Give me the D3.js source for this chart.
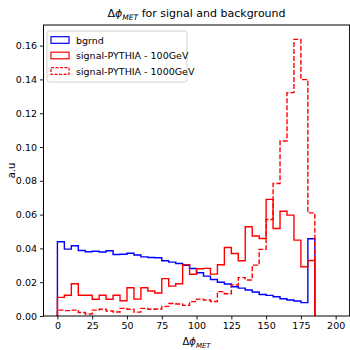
<!DOCTYPE html>
<html>
<head>
<meta charset="utf-8">
<script src="https://cdn.jsdelivr.net/npm/d3@7"></script>
<style>
  body { margin: 0; background: #fff; }
  svg text { font-family: "DejaVu Sans", sans-serif; fill: #000; }
</style>
</head>
<body>
<div class="chart"></div>
<script>
// bin edges (degrees), width 5, last filled bin ends at 185
var binEdges = d3.range(0, 190, 5);

var bgrnd = [0.0439, 0.0396, 0.0416, 0.0388, 0.0380, 0.0383, 0.0379, 0.0386, 0.0364, 0.0365,
             0.0371, 0.0361, 0.0350, 0.0346, 0.0345, 0.0327, 0.0319, 0.0311, 0.0300, 0.0281,
             0.0256, 0.0236, 0.0216, 0.0200, 0.0189, 0.0173, 0.0165, 0.0154, 0.0142, 0.0127,
             0.0122, 0.0114, 0.0102, 0.0095, 0.0089, 0.0079, 0.0457];

var sig100 = [0.0110, 0.0123, 0.0191, 0.0123, 0.0123, 0.0099, 0.0123, 0.0099, 0.0123, 0.0090,
              0.0167, 0.0100, 0.0167, 0.0148, 0.0136, 0.0221, 0.0177, 0.0191, 0.0304, 0.0247,
              0.0280, 0.0282, 0.0248, 0.0303, 0.0405, 0.0370, 0.0327, 0.0528, 0.0473, 0.0459,
              0.0690, 0.0518, 0.0620, 0.0597, 0.0449, 0.0291, 0.0328];

var sig1000 = [0.0035, 0.0032, 0.0035, 0.0021, 0.0012, 0.0035, 0.0040, 0.0030, 0.0024, 0.0045,
               0.0040, 0.0023, 0.0045, 0.0040, 0.0041, 0.0057, 0.0074, 0.0071, 0.0063, 0.0085,
               0.0100, 0.0095, 0.0086, 0.0144, 0.0132, 0.0183, 0.0227, 0.0213, 0.0301, 0.0394,
               0.0571, 0.0784, 0.1036, 0.1322, 0.1637, 0.1399, 0.0610];

var xTicks = [0, 25, 50, 75, 100, 125, 150, 175, 200];
var yTicks = [0, 0.02, 0.04, 0.06, 0.08, 0.10, 0.12, 0.14, 0.16];

var seriesNames = ["bgrnd", "signal-PYTHIA - 100GeV", "signal-PYTHIA - 1000GeV"];
var seriesData  = [bgrnd, sig100, sig1000];
var seriesColor = ["#0000ff", "#ff0000", "#ff0000"];
var seriesDash  = [null, null, "5,2"];

var width  = 350,
    height = 350;

var plotLeft   = 43.5,
    plotRight  = 349.6,
    plotTop    = 25,
    plotBottom = 316;

var x = d3.scaleLinear().domain([-10, 210]).range([plotLeft, plotRight]);
var y = d3.scaleLinear().domain([0, 0.1722]).range([plotBottom, plotTop]);

var svg = d3.select(".chart")
            .append("svg")
            .attr("width", width)
            .attr("height", height);

// step outline of one histogram
function stepPath(values) {
  var p = d3.path();
  p.moveTo(x(binEdges[0]), y(0));
  for (var i = 0; i < values.length; i++) {
    p.lineTo(x(binEdges[i]), y(values[i]));
    p.lineTo(x(binEdges[i + 1]), y(values[i]));
  }
  p.lineTo(x(binEdges[values.length]), y(0));
  return p.toString();
}

var hists = svg.append("g").attr("class", "hists");

seriesData.forEach(function (d, i) {
  hists.append("path")
       .attr("d", stepPath(d))
       .attr("fill", "none")
       .attr("stroke", seriesColor[i])
       .attr("stroke-width", 1.4)
       .attr("stroke-linejoin", "miter")
       .attr("stroke-dasharray", seriesDash[i]);
});

// axes
var xAxis = d3.axisBottom(x).tickValues(xTicks).tickSize(3.5).tickPadding(3)
              .tickFormat(d3.format("d"));
var yAxis = d3.axisLeft(y).tickValues(yTicks).tickSize(3.5).tickPadding(3)
              .tickFormat(d3.format(".2f"));

var gx = svg.append("g").attr("transform", "translate(0," + plotBottom + ")").call(xAxis);
var gy = svg.append("g").attr("transform", "translate(" + plotLeft + ",0)").call(yAxis);

[gx, gy].forEach(function (g) {
  g.select(".domain").remove();
  g.selectAll("text").attr("font-size", 9.5).attr("fill", "#000");
  g.selectAll("line").attr("stroke", "#000").attr("stroke-width", 0.9);
});

// frame
svg.append("rect")
   .attr("x", plotLeft)
   .attr("y", plotTop)
   .attr("width", plotRight - plotLeft)
   .attr("height", plotBottom - plotTop)
   .attr("fill", "none")
   .attr("stroke", "#000")
   .attr("stroke-width", 1);

// title
var title = svg.append("text")
               .attr("x", (plotLeft + plotRight) / 2)
               .attr("y", 17)
               .attr("text-anchor", "middle")
               .attr("font-size", 11);
title.append("tspan").text("Δ");
title.append("tspan").attr("font-style", "italic").text("ϕ");
title.append("tspan").attr("font-style", "italic").attr("font-size", 7.5).attr("dy", 2.5).text("MET");
title.append("tspan").attr("dy", -2.5).text(" for signal and background");

// x label
var xl = svg.append("text")
            .attr("x", (plotLeft + plotRight) / 2)
            .attr("y", 345)
            .attr("text-anchor", "middle")
            .attr("font-size", 10);
xl.append("tspan").text("Δ");
xl.append("tspan").attr("font-style", "italic").text("ϕ");
xl.append("tspan").attr("font-style", "italic").attr("font-size", 7).attr("dy", 2.5).text("MET");

// y label
svg.append("text")
   .attr("transform", "translate(15," + ((plotTop + plotBottom) / 2) + ") rotate(-90)")
   .attr("text-anchor", "middle")
   .attr("font-size", 10)
   .text("a.u");

// legend
var legend = svg.append("g").attr("class", "legend");

legend.append("rect")
      .attr("x", 47)
      .attr("y", 31)
      .attr("width", 140)
      .attr("height", 51)
      .attr("rx", 2.5)
      .attr("fill", "#fff")
      .attr("fill-opacity", 0.8)
      .attr("stroke", "#cccccc")
      .attr("stroke-width", 0.9);

seriesNames.forEach(function (name, i) {
  var cy = 40 + i * 15.5;
  legend.append("rect")
        .attr("x", 51)
        .attr("y", cy - 3.3)
        .attr("width", 18)
        .attr("height", 6.6)
        .attr("fill", "none")
        .attr("stroke", seriesColor[i])
        .attr("stroke-width", 1.2)
        .attr("stroke-dasharray", seriesDash[i] ? "3,1.5" : null);
  legend.append("text")
        .attr("x", 76)
        .attr("y", cy + 3.5)
        .attr("font-size", 9.5)
        .text(name);
});
</script>
</body>
</html>
